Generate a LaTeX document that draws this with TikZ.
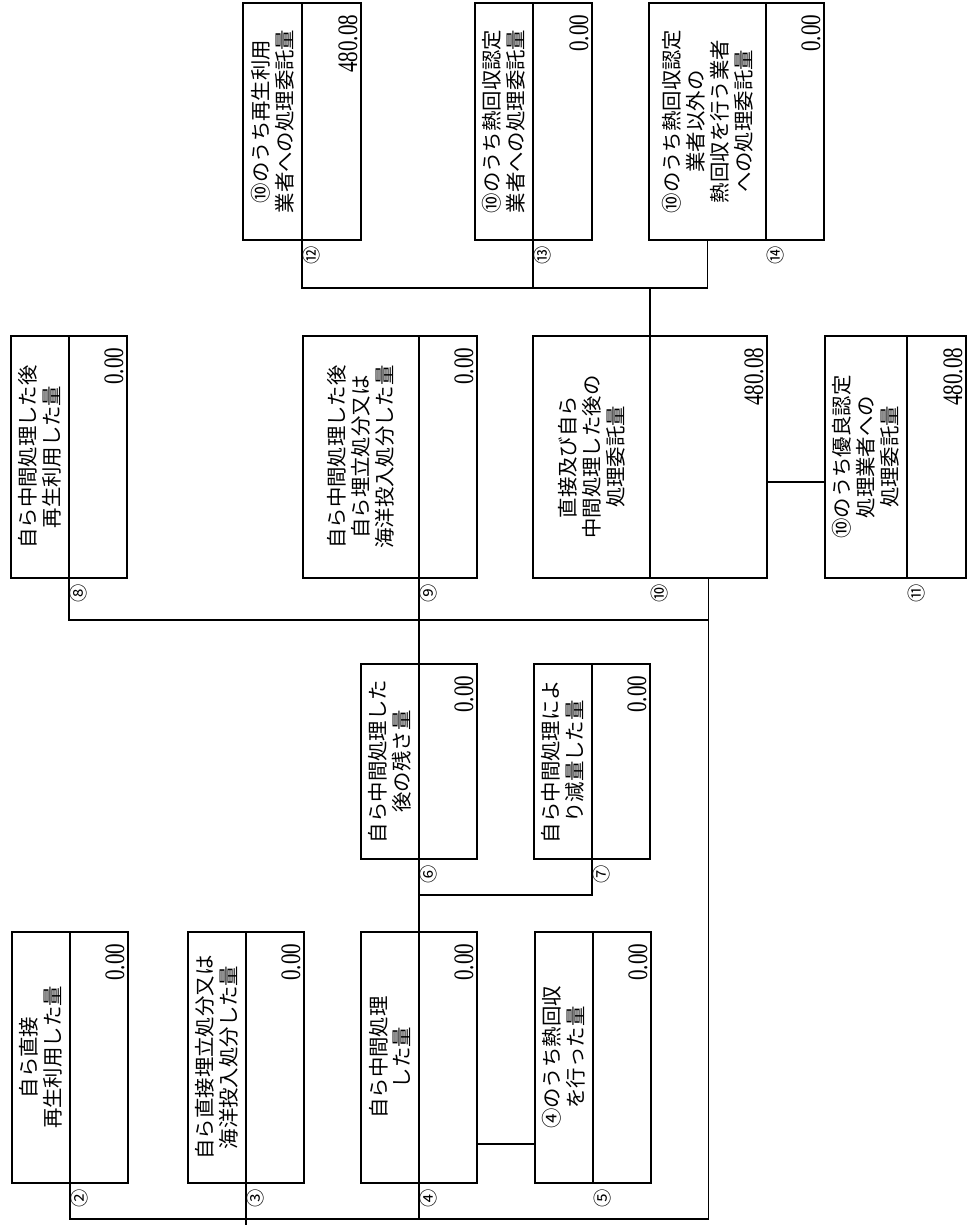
\documentclass[tikz,border=0pt]{standalone}
\usepackage{fontspec}
\setmainfont{Liberation Serif}
\newfontfamily\jp{Noto Sans CJK JP}
\newfontfamily\numfont[FakeStretch=0.75]{Liberation Serif}
\usetikzlibrary{positioning}

\begin{document}
\begin{tikzpicture}[x=0.025cm, y=-0.025cm, line width=0.8pt,
    cell/.style 2 args={draw, inner sep=0pt, outer sep=0pt,
      minimum width=#1*0.025cm, minimum height=#2*0.025cm},
    ttl/.style={rotate=90, align=center, inner sep=0pt,
      font=\jp\fontsize{14.5}{17}\selectfont},
    val/.style={rotate=90, anchor=south east, inner xsep=8pt, inner ysep=2pt,
      font=\numfont\fontsize{20}{20}\selectfont},
    num/.style={rotate=90, inner sep=0pt, font=\jp\fontsize{13}{13}\selectfont}]
    \useasboundingbox (0,0) rectangle (970,1225);
    % boxes: number/centre of title cell/widths/height/value/mark
    \foreach \n/\cx/\cy/\wl/\wr/\h/\val/\c in {
      2/41/1057.5/58/58/251/0.00/②, 3/217/1057.5/58/58/251/0.00/③,
      4/390/1057.5/58/58/251/0.00/④, 5/564/1057.5/58/58/251/0.00/⑤,
      6/390/761.5/58/58/195/0.00/⑥, 7/563/761.5/58/58/195/0.00/⑦,
      8/40/457/58/58/242/0.00/⑧, 9/361/457/116/58/242/0.00/⑨,
      10/591.5/457/117/117/242/480.08/⑩, 11/866/457/82/59/242/480.08/⑪,
      12/272.5/121.5/59/59/237/480.08/⑫, 13/504/121.5/58/59/237/0.00/⑬,
      14/707.5/121.5/117/58/237/0.00/⑭}{
    \node[cell={\wl}{\h}] (t\n) at (\cx,\cy) {};
    \node[cell={\wr}{\h}, right=0pt of t\n] (v\n) {};
    \node[val] (q\n) at (v\n.north east) {\val};
    \node[num] (n\n) at ([shift={(10,15)}]v\n.south west) {\c};
    }
    \node[ttl] (s2) at (t2) {自ら直接\\再生利用した量};
    \node[ttl] (s3) at (t3) {自ら直接埋立処分又は\\海洋投入処分した量};
    \node[ttl] (s4) at (t4) {自ら中間処理\\した量};
    \node[ttl] (s5) at (t5) {④のうち熱回収\\を行った量};
    \node[ttl] (s6) at (t6) {自ら中間処理した\\後の残さ量};
    \node[ttl] (s7) at (t7) {自ら中間処理によ\\り減量した量};
    \node[ttl] (s8) at (t8) {自ら中間処理した後\\再生利用した量};
    \node[ttl] (s9) at (t9) {自ら中間処理した後\\自ら埋立処分又は\\海洋投入処分した量};
    \node[ttl] (s10) at (t10) {直接及び自ら\\中間処理した後の\\処理委託量};
    \node[ttl] (s11) at (t11) {⑩のうち優良認定\\処理業者への\\処理委託量};
    \node[ttl] (s12) at (t12) {⑩のうち再生利用\\業者への処理委託量};
    \node[ttl] (s13) at (t13) {⑩のうち熱回収認定\\業者への処理委託量};
    \node[ttl] (s14) at (t14) {⑩のうち熱回収認定\\業者以外の\\熱回収を行う業者\\への処理委託量};
    % rows of the connectors
    \coordinate (r1) at (0,288);
    \coordinate (r2) at (0,620);
    \coordinate (r3) at (0,895);
    \coordinate (r4) at (0,1219);
    \coordinate (r5) at (0,1144);
    \coordinate (r6) at (0,482);
    \coordinate (e3) at (v3.south west |- 0,1225);
    \draw
    (v12.south west)--(v12.south west |- r1) -| (t14.south)
    (v13.south west)--(v13.south west |- r1)
    (v10.north west)--(v10.north west |- r1)
    (v10.east |- r6)--(t11.west |- r6)
    (v8.south west)--(v8.south west |- r2) -| (v10.south)
    (v10.south)--(v10.south |- r4) -| (v2.south west)
    (v9.south west)--(v6.north west)
    (v6.south west)--(v4.north west)
    (v4.south west)--(v4.south west |- r4)
    (v6.south west |- r3) -| (v7.south west)
    (v4.east |- r5)--(t5.west |- r5)
    (v3.south west)--(e3);
\end{tikzpicture}
\end{document}
